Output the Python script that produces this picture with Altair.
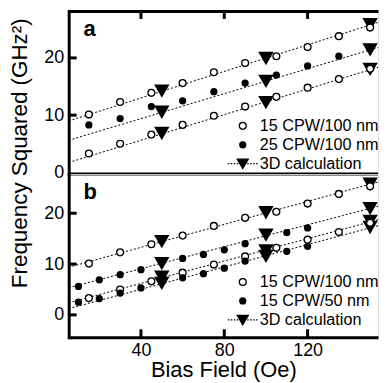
import altair as alt
import pandas as pd

FONT = "Liberation Sans"

# ---------------- data ----------------
bias_field = [15, 30, 45, 60, 75, 90, 105, 120, 135, 150]
cpw15_100nm_upper = [10.1, 12.3, 13.9, 15.6, 17.5, 19.1, 20.3, 21.9, 23.8, 25.3]
cpw15_100nm_lower = [3.3, 5.0, 6.6, 8.3, 9.9, 11.5, 13.2, 14.8, 16.3, 18.1]

bias_field_25 = [15, 30, 45, 60, 75, 90, 105, 120, 135]
cpw25_100nm = [8.3, 9.4, 11.5, 12.5, 14.1, 15.6, 17.0, 18.6, 20.3]

bias_field_50 = [10, 20, 30, 40, 60, 70, 80, 90, 110, 120]
cpw15_50nm_upper = [5.6, 6.9, 7.9, 8.9, 11.1, 11.9, 12.8, 14.0, 16.2, 17.1]
cpw15_50nm_lower = [2.5, 3.2, 4.3, 5.3, 7.3, 8.1, 9.2, 10.6, 12.5, 13.5]

calc_field = [50, 100, 150]
a_calc_upper = [14.2, 19.9, 25.8]
a_calc_middle = [10.5, 15.9, 21.4]
a_calc_lower = [6.8, 12.2, 18.0]
b_calc_upper = [14.4, 20.1, 25.7]
b_calc_middle = [10.1, 15.7, 20.9]
b_calc_lower_100 = [7.4, 12.6, 18.4]
b_calc_lower_50 = [6.2, 11.5, 17.2]

x_ticks = [40, 80, 120]
y_tick_labels = [0, 10, 20]
a_inner_ticks = [10, 20]
b_inner_ticks = [0, 10, 20]
x_domain = [5.3, 153.8]
a_y_domain = [-0.3, 28.2]
b_y_domain = [-4.4, 27.7]

a_series = ["15 CPW/100 nm", "25 CPW/100 nm", "3D calculation"]
b_series = ["15 CPW/100 nm", "15 CPW/50 nm", "3D calculation"]
panel_labels = ["a", "b"]

# ---------------- symbols ----------------
CIRCLE_OPEN = "M0.23,0A0.23,0.23,0,1,1,-0.23,0A0.23,0.23,0,1,1,0.23,0Z"
CIRCLE_FILLED = "M0.2,0A0.2,0.2,0,1,1,-0.2,0A0.2,0.2,0,1,1,0.2,0Z"
CALC_SYMBOL = ("M-0.37,-0.3L0.37,-0.3L0,0.33Z"
               "M-1,0h0.1M-0.8,0h0.1M-0.6,0h0.1M-0.4,0h0.1"
               "M0.3,0h0.1M0.5,0h0.1M0.7,0h0.1M0.9,0h0.1")

W, H = 311, 164


def points_frame(parts):
    rows = []
    for series, branch, xs, ys in parts:
        for xv, yv in zip(xs, ys):
            rows.append({"series": series, "branch": branch, "x": xv, "y": yv})
    return pd.DataFrame(rows)


def calc_frame(parts):
    rows = []
    for grp, ys in parts:
        for xv, yv in zip(calc_field, ys):
            rows.append({"grp": grp, "x": xv, "y": yv})
    return pd.DataFrame(rows)


a_points = points_frame([
    (a_series[0], "upper", bias_field, cpw15_100nm_upper),
    (a_series[0], "lower", bias_field, cpw15_100nm_lower),
    (a_series[1], "mid", bias_field_25, cpw25_100nm),
])
b_points = points_frame([
    (b_series[0], "upper", bias_field, cpw15_100nm_upper),
    (b_series[0], "lower", bias_field, cpw15_100nm_lower),
    (b_series[1], "upper50", bias_field_50, cpw15_50nm_upper),
    (b_series[1], "lower50", bias_field_50, cpw15_50nm_lower),
])
a_calc = calc_frame([("u", a_calc_upper), ("m", a_calc_middle), ("l", a_calc_lower)])
b_calc = calc_frame([("u", b_calc_upper), ("m", b_calc_middle),
                     ("l1", b_calc_lower_100), ("l2", b_calc_lower_50)])


def make_panel(pts, calc, series, y_domain, inner_ticks, label, legend_y, is_top):
    x_scale = alt.Scale(domain=x_domain, nice=False, zero=False)
    common_y = dict(values=y_tick_labels, ticks=False, grid=False,
                    labelFontSize=18, labelFont=FONT, labelColor="black",
                    labelPadding=5, domainWidth=3, domainColor="black",
                    domainCap="square")
    if is_top:
        x_axis = alt.Axis(orient="top", values=x_ticks, labels=False, ticks=False,
                          grid=False, domainWidth=3, domainColor="black")
        X = alt.X("x:Q", scale=x_scale, axis=x_axis, title=None)
        y_axis = alt.Axis(titleFontSize=22.5, titleFont=FONT,
                          titleFontWeight="normal", titleColor="black",
                          titleX=-60, titleY=142.5, titleAngle=270,
                          titleAlign="center", titleBaseline="top", **common_y)
        Y = alt.Y("y:Q", scale=alt.Scale(domain=y_domain, nice=False, zero=False),
                  axis=y_axis, title="Frequency Squared (GHz\u00b2)")
    else:
        x_axis = alt.Axis(orient="bottom", values=x_ticks, ticks=False, grid=False,
                          labelFontSize=18, labelFont=FONT, labelColor="black",
                          labelPadding=4, domainWidth=3, domainColor="black",
                          titleFontSize=22, titleFont=FONT, titleFontWeight="normal",
                          titleColor="black", titlePadding=0)
        X = alt.X("x:Q", scale=x_scale, axis=x_axis, title="Bias Field (Oe)")
        y_axis = alt.Axis(**common_y)
        Y = alt.Y("y:Q", scale=alt.Scale(domain=y_domain, nice=False, zero=False),
                  axis=y_axis, title=None)

    legend = alt.Legend(title=None, orient="none", legendX=159, legendY=legend_y,
                        labelFont=FONT, labelFontSize=16.3, labelColor="black",
                        labelOffset=1, symbolSize=900, symbolStrokeColor="black",
                        symbolStrokeWidth=1.3, clipHeight=17, rowPadding=2,
                        padding=0)

    lines = alt.Chart(calc).transform_regression(
        "x", "y", groupby=["grp"], extent=x_domain
    ).mark_line(color="black", strokeWidth=1, strokeDash=[2, 2]).encode(
        x=X, y=Y, detail="grp:N")

    tri = alt.Chart(calc).mark_point(shape="triangle-down", filled=True,
                                     color="black", size=240, opacity=1).encode(
        x=X, y=Y)

    pts_layer = alt.Chart(pts).mark_point(filled=True, strokeWidth=1.3, size=900,
                                          opacity=1).encode(
        x=X, y=Y,
        shape=alt.Shape("series:N", scale=alt.Scale(
            domain=series, range=[CIRCLE_OPEN, CIRCLE_FILLED, CALC_SYMBOL]),
            legend=legend),
        fill=alt.Fill("series:N", scale=alt.Scale(
            domain=series, range=["white", "black", "black"]), legend=legend),
        stroke=alt.Stroke("series:N", scale=alt.Scale(
            domain=series, range=["black", "black", "black"]), legend=legend),
        detail="branch:N",
    )

    left_ticks = alt.Chart(pd.DataFrame({"y": inner_ticks})).mark_rule(
        color="black", strokeWidth=3).encode(y=Y, x=alt.value(0), x2=alt.value(8))

    if is_top:
        edge_ticks = alt.Chart(pd.DataFrame({"x": x_ticks})).mark_rule(
            color="black", strokeWidth=3).encode(x=X, y=alt.value(0), y2=alt.value(8))
        frame = alt.Chart(pd.DataFrame({"x": [x_domain[0]], "x2": [x_domain[1]]})).mark_rule(
            color="black", strokeWidth=3).encode(x=X, x2="x2:Q", y=alt.value(H))
        extras = [edge_ticks, frame]
    else:
        edge_ticks = alt.Chart(pd.DataFrame({"x": x_ticks})).mark_rule(
            color="black", strokeWidth=3).encode(x=X, y=alt.value(H), y2=alt.value(H - 8))
        extras = [edge_ticks]

    text = alt.Chart(pd.DataFrame({"label": [label]})).mark_text(
        align="left", baseline="alphabetic", fontSize=22, fontWeight="bold",
        font=FONT, color="black").encode(text="label:N", x=alt.value(15), y=alt.value(25))

    return alt.layer(lines, tri, pts_layer, left_ticks, *extras, text).properties(
        width=W, height=H)


pa = make_panel(a_points, a_calc, a_series, a_y_domain, a_inner_ticks,
                panel_labels[0], 107, True)
pb = make_panel(b_points, b_calc, b_series, b_y_domain, b_inner_ticks,
                panel_labels[1], 100, False)

chart = alt.vconcat(pa, pb, spacing=0, bounds="flush").resolve_scale(
    shape="independent", fill="independent", stroke="independent"
).resolve_legend(shape="independent", fill="independent",
                 stroke="independent").properties(
    padding=0
).configure_view(strokeWidth=0).configure(font=FONT)

chart.save("out.html", embed_options={"renderer": "svg", "actions": False})
